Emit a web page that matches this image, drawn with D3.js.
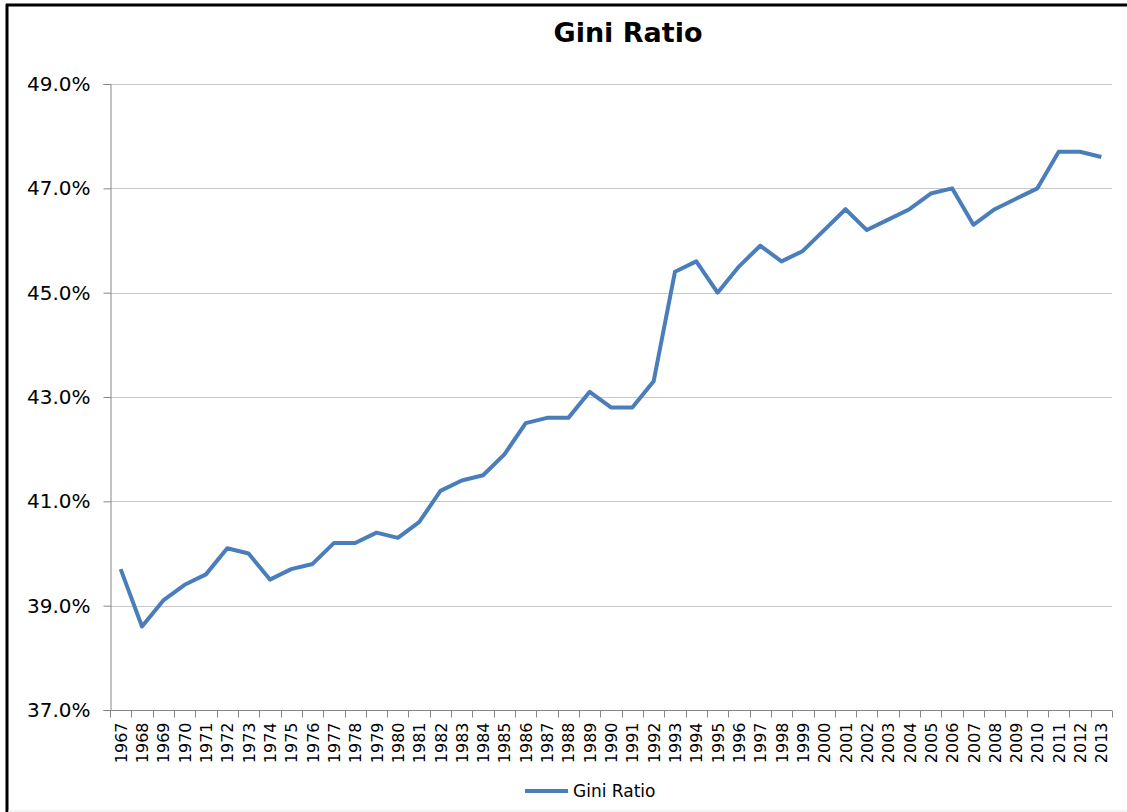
<!DOCTYPE html>
<html>
<head>
<meta charset="utf-8">
<script src="https://cdn.jsdelivr.net/npm/d3@7"></script>
<style>
  body { margin: 0; background: #fff; }
  svg { font-family: "DejaVu Sans", Verdana, sans-serif; }
</style>
</head>
<body>
<div id="chart"></div>
<script>
const years = [1967, 1968, 1969, 1970, 1971, 1972, 1973, 1974, 1975, 1976,
    1977, 1978, 1979, 1980, 1981, 1982, 1983, 1984, 1985, 1986,
    1987, 1988, 1989, 1990, 1991, 1992, 1993, 1994, 1995, 1996,
    1997, 1998, 1999, 2000, 2001, 2002, 2003, 2004, 2005, 2006,
    2007, 2008, 2009, 2010, 2011, 2012, 2013];
const gini = [39.7, 38.6, 39.1, 39.4, 39.6, 40.1, 40.0, 39.5, 39.7, 39.8,
    40.2, 40.2, 40.4, 40.3, 40.6, 41.2, 41.4, 41.5, 41.9, 42.5,
    42.6, 42.6, 43.1, 42.8, 42.8, 43.3, 45.4, 45.6, 45.0, 45.5,
    45.9, 45.6, 45.8, 46.2, 46.6, 46.2, 46.4, 46.6, 46.9, 47.0,
    46.3, 46.6, 46.8, 47.0, 47.7, 47.7, 47.6];
const yTicks = [37, 39, 41, 43, 45, 47, 49];
const seriesName = 'Gini Ratio';

const width = 1127, height = 812;
const margin = { left: 110, top: 84, right: 15, bottom: 102 };

const svg = d3.select('#chart').append('svg')
    .attr('width', width)
    .attr('height', height);

// frame
svg.append('line').attr('x1', 7).attr('y1', 4).attr('x2', 7).attr('y2', 812)
    .attr('stroke', '#000').attr('stroke-width', 3);
svg.append('line').attr('x1', 6).attr('y1', 5).attr('x2', width).attr('y2', 5)
    .attr('stroke', '#000').attr('stroke-width', 3);
svg.append('line').attr('x1', 8).attr('y1', 811).attr('x2', width).attr('y2', 811)
    .attr('stroke', '#e6e6e6').attr('stroke-width', 1);

const x = d3.scaleBand().domain(years)
    .range([margin.left, width - margin.right]);
const y = d3.scaleLinear().domain([37, 49])
    .range([height - margin.bottom, margin.top]);

// gridlines
svg.append('g')
    .selectAll('line').data(yTicks.filter(d => d > 37))
    .enter().append('line')
    .attr('x1', margin.left).attr('x2', width - margin.right)
    .attr('y1', d => Math.round(y(d)) + 0.5).attr('y2', d => Math.round(y(d)) + 0.5)
    .attr('stroke', '#c8c8c8').attr('stroke-width', 1);

// y axis
const yAxis = svg.append('g')
    .attr('transform', `translate(${margin.left + 0.5},0)`)
    .call(d3.axisLeft(y).tickValues(yTicks).tickSize(7).tickPadding(13)
        .tickFormat(d => d.toFixed(1) + '%'));
yAxis.select('.domain').attr('stroke', '#868686');
yAxis.selectAll('.tick line').attr('stroke', '#868686');
yAxis.selectAll('.tick text').attr('font-size', 20).attr('fill', '#000')
    .attr('font-family', '"DejaVu Sans", Verdana, sans-serif');

// x axis
const xAxisY = Math.round(y(37)) + 0.5;
const xg = svg.append('g');
xg.append('line')
    .attr('x1', margin.left).attr('x2', width - margin.right)
    .attr('y1', xAxisY).attr('y2', xAxisY)
    .attr('stroke', '#868686');
xg.selectAll('line.tk').data(years.concat(['end']))
    .enter().append('line')
    .attr('class', 'tk')
    .attr('x1', d => Math.round(d === 'end' ? x.range()[1] : x(d)) + 0.5)
    .attr('x2', d => Math.round(d === 'end' ? x.range()[1] : x(d)) + 0.5)
    .attr('y1', xAxisY).attr('y2', xAxisY + 7)
    .attr('stroke', '#868686');
xg.selectAll('text').data(years)
    .enter().append('text')
    .attr('transform', d => `translate(${x(d) + x.bandwidth() / 2},${xAxisY + 12}) rotate(-90)`)
    .attr('text-anchor', 'end')
    .attr('dy', '0.38em')
    .attr('font-size', 16)
    .text(d => d);

// series line
const line = d3.line()
    .x((d, i) => x(years[i]) + x.bandwidth() / 2)
    .y(d => y(d));
svg.append('path')
    .datum(gini)
    .attr('fill', 'none')
    .attr('stroke', '#4a7ebb')
    .attr('stroke-width', 4)
    .attr('stroke-linejoin', 'round')
    .attr('d', line);

// title
svg.append('text')
    .attr('x', 628).attr('y', 41.5)
    .attr('text-anchor', 'middle')
    .attr('font-size', 27).attr('font-weight', 'bold')
    .text(seriesName);

// legend
svg.append('line')
    .attr('x1', 525).attr('x2', 568).attr('y1', 791).attr('y2', 791)
    .attr('stroke', '#4a7ebb').attr('stroke-width', 4);
svg.append('text')
    .attr('x', 573).attr('y', 791).attr('dy', '0.36em')
    .attr('font-size', 17)
    .text(seriesName);
</script>
</body>
</html>
